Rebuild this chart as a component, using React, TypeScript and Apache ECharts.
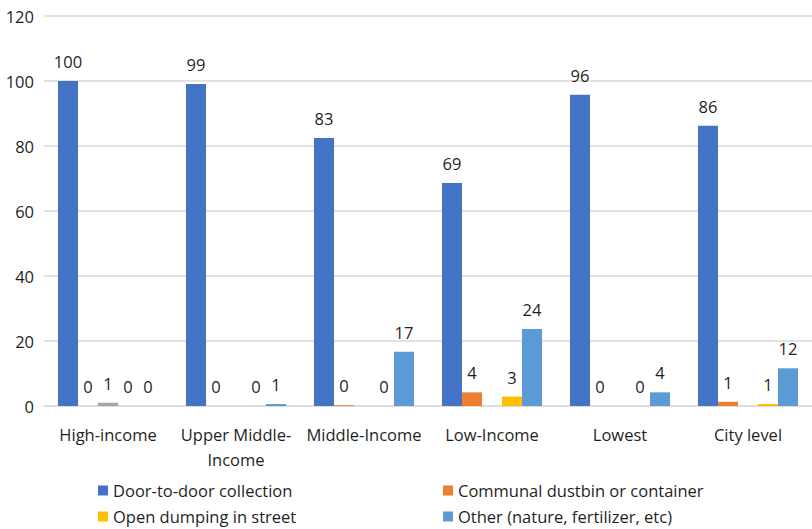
import React, { useEffect, useRef } from "react";
import * as echarts from "echarts";

const categories = ["High-income", "Upper Middle-\nIncome", "Middle-Income", "Low-Income", "Lowest", "City level"];
const doorToDoor = [100, 99.1, 82.5, 68.6, 95.8, 86.2];
const communal = [0, 0, 0.25, 4.2, 0, 1.3];
const grayOther = [1.0, null, null, null, null, null];
const openDumping = [0, 0, 0, 2.9, 0, 0.6];
const otherUse = [0, 0.6, 16.7, 23.7, 4.2, 11.6];
const yTicks = { min: 0, max: 120, interval: 20 };

const FONT = "'Open Sans', sans-serif";

export default function App() {
  const ref = useRef<HTMLDivElement>(null);
  useEffect(() => {
    if (!ref.current) return;
    const chart = echarts.init(ref.current, undefined, { renderer: "svg" });
    const label = {
      show: true,
      position: "top" as const,
      distance: 11,
      fontSize: 16.5,
      fontFamily: FONT,
      color: "#1f1f1f",
      formatter: (p: any) => (p.value == null ? "" : String(Math.round(p.value))),
    };
    const mk = (name: string, data: any[], color: string) => ({
      name,
      type: "bar",
      data,
      barWidth: 20,
      barGap: "0%",
      itemStyle: { color },
      label,
    });
    const leg = (name: string, left: number, top: number) => ({
      left,
      top,
      itemWidth: 10,
      itemHeight: 10,
      itemGap: 10,
      icon: "rect",
      padding: 0,
      textStyle: { fontSize: 16.5, fontFamily: FONT, color: "#1f1f1f" },
      data: [name],
    });
    chart.setOption({
      animation: false,
      textStyle: { fontFamily: FONT },
      grid: { left: 44, right: -10, top: 16, bottom: 123, containLabel: false },
      legend: [
        leg("Door-to-door collection", 98, 482),
        leg("Open dumping in street", 98, 508),
        leg("Communal dustbin or container", 443, 482),
        leg("Other (nature, fertilizer, etc)", 443, 508),
      ],
      xAxis: {
        type: "category",
        data: categories,
        axisLine: { show: true, lineStyle: { color: "#D9D9D9", width: 1.5 } },
        axisTick: { show: false },
        axisLabel: {
          fontSize: 16.5,
          fontFamily: FONT,
          color: "#1f1f1f",
          margin: 16,
          lineHeight: 25,
          interval: 0,
        },
      },
      yAxis: {
        type: "value",
        min: yTicks.min,
        max: yTicks.max,
        interval: yTicks.interval,
        axisLine: { show: false },
        axisTick: { show: false },
        splitLine: { lineStyle: { color: "#D9D9D9", width: 1.5 } },
        axisLabel: { fontSize: 16.5, fontFamily: FONT, color: "#1f1f1f", margin: 10 },
      },
      series: [
        mk("Door-to-door collection", doorToDoor, "#4472C4"),
        mk("Communal dustbin or container", communal, "#ED7D31"),
        mk("Private collection", grayOther, "#A5A5A5"),
        mk("Open dumping in street", openDumping, "#FFC000"),
        mk("Other (nature, fertilizer, etc)", otherUse, "#5B9BD5"),
      ],
    });
    return () => chart.dispose();
  }, []);
  return (
    <div
      ref={ref}
      style={{ position: "fixed", left: 0, top: 0, width: 812, height: 529, background: "#fff" }}
    />
  );
}
